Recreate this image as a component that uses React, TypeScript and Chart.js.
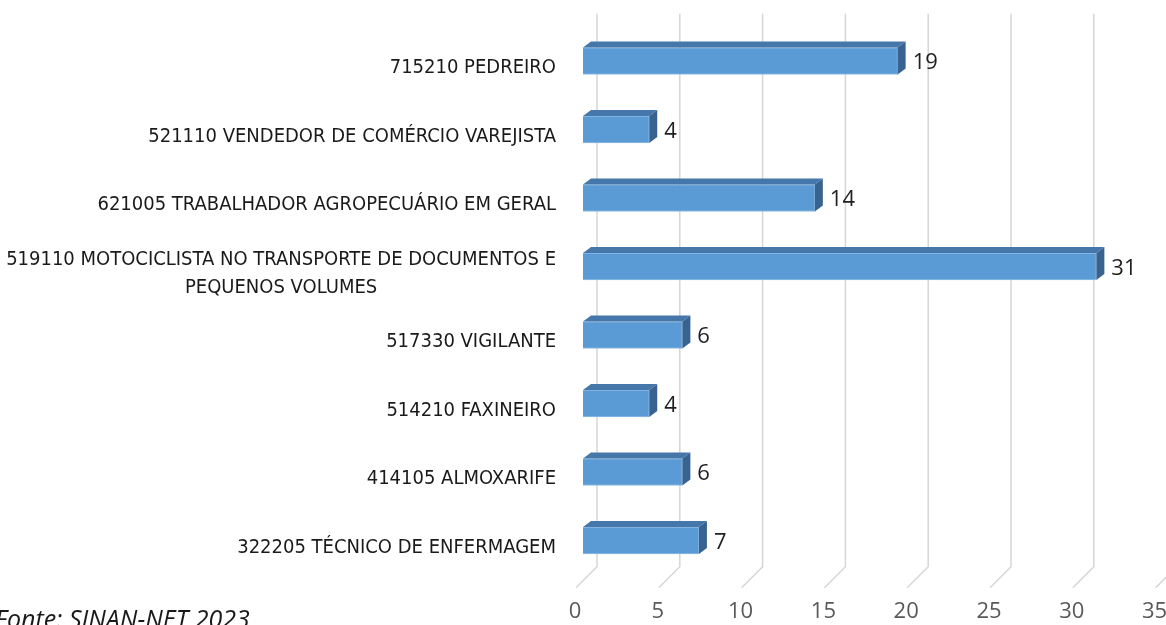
import React, { useEffect, useRef } from "react";
import { Chart, registerables } from "chart.js";

Chart.register(...registerables);

const categories: string[][] = [
  ["715210 PEDREIRO"],
  ["521110 VENDEDOR DE COMÉRCIO VAREJISTA"],
  ["621005 TRABALHADOR AGROPECUÁRIO EM GERAL"],
  ["519110 MOTOCICLISTA NO TRANSPORTE DE DOCUMENTOS E", "PEQUENOS VOLUMES"],
  ["517330 VIGILANTE"],
  ["514210 FAXINEIRO"],
  ["414105 ALMOXARIFE"],
  ["322205 TÉCNICO DE ENFERMAGEM"],
];
const values: number[] = [19, 4, 14, 31, 6, 4, 6, 7];
const axisMin = 0;
const axisMax = 35;
const axisStep = 5;
const sourceNote = "Fonte: SINAN-NET 2023";

const FRONT = "#5B9BD5";
const TOP = "#4677AA";
const SIDE = "#386391";
const GRID = "#D6D6D6";
const LABEL_FONT = "'Liberation Sans Narrow', 'DejaVu Sans Condensed', sans-serif";
const NUM_FONT = "'Open Sans', sans-serif";

const threeD = {
  id: "threeD",
  beforeDatasetsDraw(chart: any) {
    const { ctx, scales, chartArea } = chart;
    const x = scales.x;
    ctx.save();
    ctx.strokeStyle = GRID;
    ctx.lineWidth = 1.5;
    const top = chartArea.top - 13;
    const bottom = chartArea.bottom - 8;
    ctx.fillStyle = "#595959";
    ctx.font = `22px ${NUM_FONT}`;
    ctx.textAlign = "center";
    ctx.textBaseline = "middle";
    for (const t of x.ticks) {
      const px = x.getPixelForValue(t.value) + 14;
      ctx.beginPath();
      ctx.moveTo(px, top);
      ctx.lineTo(px, bottom);
      ctx.lineTo(px - 21, bottom + 21);
      ctx.stroke();
      ctx.fillText(String(t.value), px - 22, bottom + 45);
    }
    ctx.restore();
  },
  afterDatasetsDraw(chart: any) {
    const { ctx } = chart;
    const meta = chart.getDatasetMeta(0);
    const dx = 8;
    const dy = -6;
    ctx.save();
    meta.data.forEach((bar: any, i: number) => {
      const { x, y, base, height } = bar.getProps(["x", "y", "base", "height"], true);
      const t = y - height / 2;
      const b = y + height / 2;
      ctx.fillStyle = TOP;
      ctx.beginPath();
      ctx.moveTo(base, t);
      ctx.lineTo(x, t);
      ctx.lineTo(x + dx, t + dy);
      ctx.lineTo(base + dx, t + dy);
      ctx.closePath();
      ctx.fill();
      ctx.fillStyle = SIDE;
      ctx.beginPath();
      ctx.moveTo(x, t);
      ctx.lineTo(x + dx, t + dy);
      ctx.lineTo(x + dx, b + dy);
      ctx.lineTo(x, b);
      ctx.closePath();
      ctx.fill();
      ctx.fillStyle = "#1f1f1f";
      ctx.font = `22px ${NUM_FONT}`;
      ctx.textAlign = "left";
      ctx.textBaseline = "middle";
      ctx.fillText(String(values[i]), x + 15, y + 2);
    });
    ctx.restore();
  },
  afterDraw(chart: any) {
    const { ctx, scales, chartArea } = chart;
    const yS = scales.y;
    ctx.save();
    ctx.fillStyle = "#1a1a1a";
    ctx.font = `20px ${LABEL_FONT}`;
    ctx.textAlign = "center";
    ctx.textBaseline = "middle";
    const right = chartArea.left - 27;
    categories.forEach((lines, i) => {
      const cy = yS.getPixelForValue(i) + 7;
      const maxW = Math.max(...lines.map((l) => ctx.measureText(l).width));
      const cx = right - maxW / 2;
      const lh = 28;
      const start = cy - ((lines.length - 1) * lh) / 2;
      lines.forEach((l, k) => ctx.fillText(l, cx, start + k * lh));
    });
    ctx.font = `italic 25px ${NUM_FONT}`;
    ctx.textAlign = "left";
    ctx.textBaseline = "alphabetic";
    ctx.fillStyle = "#1a1a1a";
    ctx.fillText(sourceNote, -5, 628);
    ctx.restore();
  },
};

export default function App() {
  const ref = useRef<HTMLCanvasElement>(null);
  useEffect(() => {
    if (!ref.current) return;
    const chart = new Chart(ref.current, {
      type: "bar",
      data: {
        labels: categories.map((c) => c.join(" ")),
        datasets: [
          {
            data: values,
            backgroundColor: FRONT,
            borderColor: "#8FBCE6",
            borderWidth: 1,
            barThickness: 27,
          },
        ],
      },
      options: {
        indexAxis: "y",
        responsive: false,
        animation: false,
        layout: { padding: { left: 583, right: 3.4, top: 26.75, bottom: 50.25 } },
        plugins: { legend: { display: false }, tooltip: { enabled: false } },
        scales: {
          x: { display: false, min: axisMin, max: axisMax, ticks: { stepSize: axisStep } },
          y: { display: false },
        },
      },
      plugins: [threeD],
    });
    return () => chart.destroy();
  }, []);
  return (
    <div style={{ position: "fixed", left: 0, top: 0, width: 1166, height: 625, background: "#fff" }}>
      <canvas ref={ref} width={1166} height={625} style={{ display: "block" }} />
    </div>
  );
}
